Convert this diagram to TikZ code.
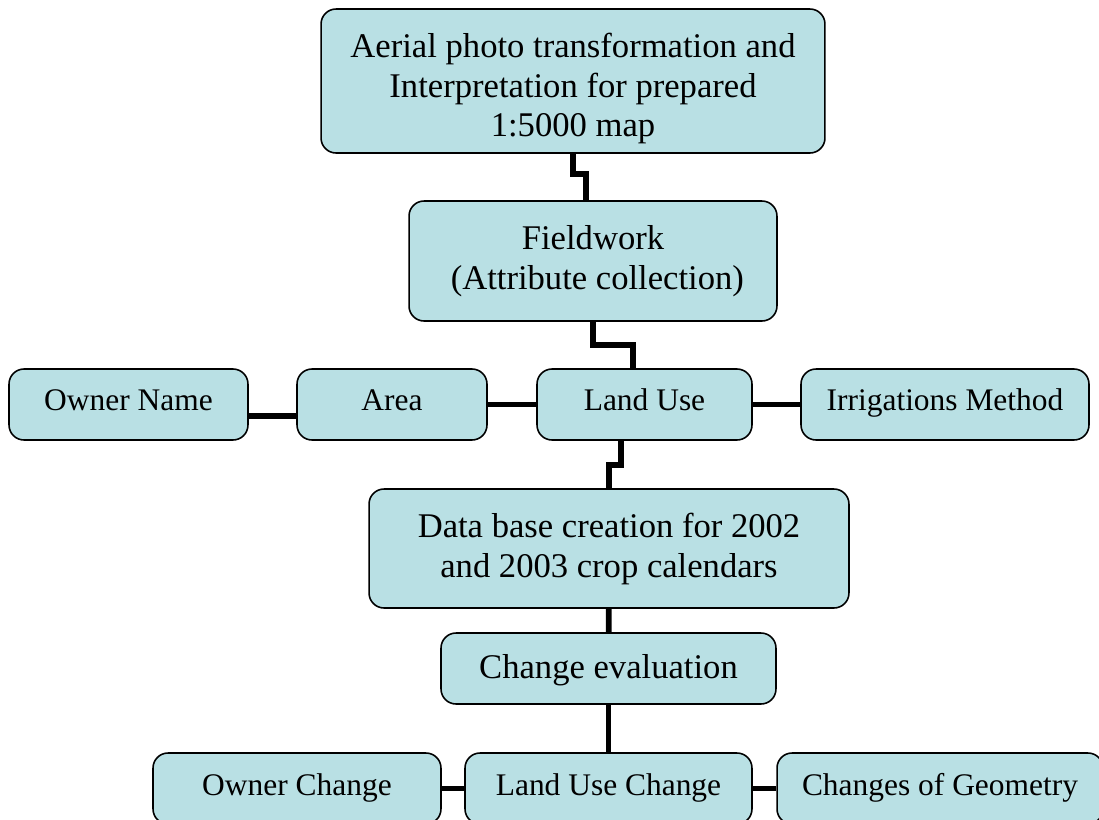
\documentclass[tikz,border=0pt]{standalone}
\usepackage{fontspec}
\setmainfont{Liberation Serif}
\definecolor{boxfill}{RGB}{185,224,228}
% invisible struts: height above / depth below the baseline
\newcommand{\up}[1]{\rule{0pt}{#1}}
\newcommand{\down}[1]{\rule[-#1]{0pt}{#1}}

\begin{document}
\begin{tikzpicture}[x=0.02cm, y=-0.02cm,
    box/.style={rectangle, rounded corners=0.3cm, minimum height=1.42cm, align=center, inner sep=0pt, draw=black, line width=0.9pt, fill=boxfill},
    big/.style={box, font=\fontsize{19.7}{22.76}\selectfont},
    small/.style={box, font=\fontsize{17.9}{22.76}\selectfont, text height=0.24cm, text depth=0cm},
    link/.style={line width=3.3pt, line join=miter}]

    \clip (0,0) rectangle (1099,819);

    \node (aerial) [big, minimum width=10.08cm, minimum height=2.88cm] at (573,81) {\up{0.84cm}Aerial photo transformation and\\Interpretation for prepared\\1:5000 map\down{0.2cm}};
    \node (field) [big, minimum width=7.36cm, minimum height=2.40cm] at (593,261) {\up{0.65cm}Fieldwork\\\ (Attribute collection)\down{0.32cm}};

    \node (owner) [small, minimum width=4.78cm] at (128.5,404.5) {Owner Name};
    \node (area) [small, minimum width=3.80cm] at (392,404.5) {Area};
    \node (landuse) [small, minimum width=4.30cm] at (644.5,404.5) {Land Use};
    \node (irrig) [small, minimum width=5.76cm] at (945,404.5) {Irrigations Method};

    \node (dbase) [big, minimum width=9.60cm, minimum height=2.38cm] at (609,548.5) {\up{0.66cm}Data base creation for 2002\\and 2003 crop calendars\down{0.3cm}};
    \node (change) [big, minimum width=6.70cm, text height=0.38cm, text depth=0cm] at (608.5,668.5) {Change evaluation};

    \node (ownerch) [small, minimum width=5.76cm, text height=0.28cm] at (297,788.5) {Owner Change};
    \node (landch) [small, minimum width=5.74cm, text height=0.28cm] at (608.5,788.5) {Land Use Change};
    \node (geom) [small, minimum width=6.52cm, text height=0.28cm] at (940,788.5) {Changes of Geometry};

    \draw [link] (aerial.south) -- ++(0,20) -| ([xshift=-0.14cm]field.north);
    \draw [link] (field.south) -- ++(0,23.5) -| ([xshift=-0.23cm]landuse.north);
    \draw [link] ([xshift=-0.47cm]landuse.south) -- ++(0,24.5) -| (dbase.north);
    \draw [link] (dbase) -- (change);
    \draw [link] (change) -- (landch);

    \draw [link] ([yshift=-0.23cm]owner.east) -- ([yshift=-0.23cm]area.west);
    \draw [link] (area) -- (landuse);
    \draw [link] (landuse) -- (irrig);

    \draw [link] (ownerch) -- (landch);
    \draw [link] (landch) -- (geom);

\end{tikzpicture}
\end{document}
